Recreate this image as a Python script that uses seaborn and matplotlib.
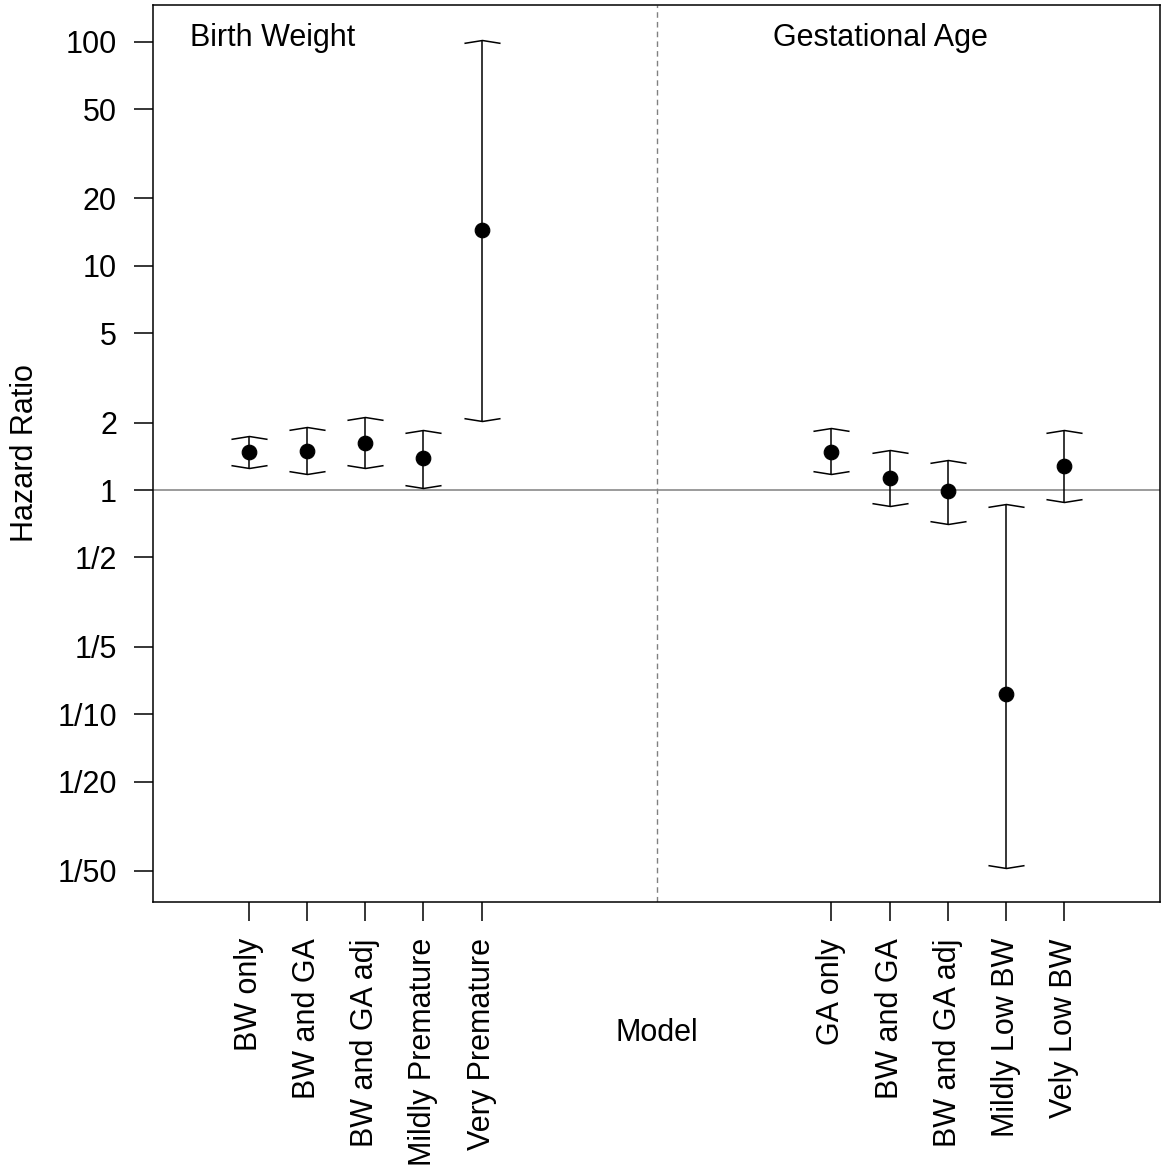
import matplotlib
matplotlib.use("Agg")
import matplotlib.pyplot as plt
from matplotlib.path import Path
import numpy as np
import pandas as pd
import seaborn as sns

# hazard ratios
models = ["BW only", "BW and GA", "BW and GA adj", "Mildly Premature", "Very Premature",
          "GA only", "BW and GA", "BW and GA adj", "Mildly Low BW", "Vely Low BW"]
positions = [1, 2, 3, 4, 5, 11, 12, 13, 14, 15]
hr = [1.48, 1.49, 1.62, 1.39, 14.5, 1.48, 1.13, 0.99, 0.123, 1.28]
hr_lo = [1.25, 1.18, 1.25, 1.02, 2.03, 1.18, 0.848, 0.705, 0.0205, 0.884]
hr_hi = [1.74, 1.91, 2.12, 1.85, 102.0, 1.89, 1.51, 1.36, 0.866, 1.85]

ytick_vals = [100, 50, 20, 10, 5, 2, 1, 0.5, 0.2, 0.1, 0.05, 0.02]
ytick_labs = ["100", "50", "20", "10", "5", "2", "1", "1/2", "1/5", "1/10", "1/20", "1/50"]

df = pd.DataFrame({"pos": positions, "model": models, "hr": hr, "lo": hr_lo, "hi": hr_hi})

sns.set_style("white")
plt.rcParams["font.family"] = ["Liberation Sans", "DejaVu Sans"]
plt.rcParams["text.color"] = "black"
plt.rcParams["axes.labelcolor"] = "black"
plt.rcParams["xtick.color"] = "black"
plt.rcParams["ytick.color"] = "black"

fig = plt.figure(figsize=(11.62, 11.70), dpi=100)
ax = fig.add_axes([0.1317, 0.229, 0.8666, 0.7667])
ax.set_yscale("log")

# reference lines
ax.axhline(1, color="#808080", lw=1.1, zorder=1)
ax.axvline(8, color="#808080", lw=1.0, ls=(0, (4, 3)), zorder=1)

# intervals
ax.vlines(df["pos"], df["lo"], df["hi"], color="black", lw=1.1, zorder=2)
up_cap = Path([(-1, -0.16), (0, 0), (1, -0.16)], [Path.MOVETO, Path.LINETO, Path.LINETO])
dn_cap = Path([(-1, 0.16), (0, 0), (1, 0.16)], [Path.MOVETO, Path.LINETO, Path.LINETO])
ax.plot(df["pos"], df["hi"], ls="none", marker=up_cap, ms=26, mfc="none", mec="black", mew=1.1)
ax.plot(df["pos"], df["lo"], ls="none", marker=dn_cap, ms=26, mfc="none", mec="black", mew=1.1)

sns.scatterplot(data=df, x="pos", y="hr", color="black", s=110, edgecolor="black", ax=ax, zorder=3)

ax.set_xlim(-0.64, 16.64)
ax.set_ylim(0.01449, 146.0)
ax.set_yticks(ytick_vals)
ax.set_yticklabels(ytick_labs)
ax.yaxis.set_minor_locator(matplotlib.ticker.NullLocator())
ax.set_xticks(positions)
ax.set_xticklabels(models, rotation=90)

ax.tick_params(axis="both", direction="out", length=14, width=1.1, pad=12,
               labelsize=22, color="black", left=True, bottom=True)

for s in ax.spines.values():
    s.set_color("black")
    s.set_linewidth(1.1)

ax.text(0, 104, "Birth Weight", ha="left", va="center", fontsize=22)
ax.text(10, 104, "Gestational Age", ha="left", va="center", fontsize=22)

ax.set_xlabel("Model", fontsize=22, va="center")
ax.xaxis.set_label_coords(0.5, -0.146)
ax.set_ylabel("Hazard Ratio", fontsize=22, va="center")
ax.yaxis.set_label_coords(-0.127, 0.5)

fig.savefig("out.png", dpi=100)
